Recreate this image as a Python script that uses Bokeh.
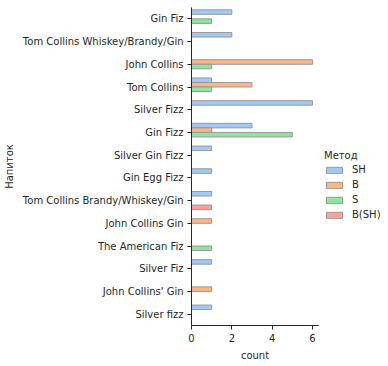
from bokeh.plotting import figure
from bokeh.models import FactorRange, Range1d, FixedTicker, Legend, LegendItem, ColumnDataSource
from bokeh.transform import dodge
from bokeh.embed import file_html
from bokeh.resources import INLINE

drinks = ["Gin Fiz", "Tom Collins Whiskey/Brandy/Gin", "John Collins", "Tom Collins",
          "Silver Fizz", "Gin Fizz", "Silver Gin Fizz", "Gin Egg Fizz",
          "Tom Collins Brandy/Whiskey/Gin", "John Collins Gin", "The American Fiz",
          "Silver Fiz", "John Collins' Gin", "Silver fizz"]
methods = ["SH", "B", "S", "B(SH)"]
count_SH = [2, 2, 0, 1, 6, 3, 1, 1, 1, 0, 0, 1, 0, 1]
count_B = [0, 0, 6, 3, 0, 1, 0, 0, 0, 1, 0, 0, 1, 0]
count_S = [1, 0, 1, 1, 0, 5, 0, 0, 0, 0, 1, 0, 0, 0]
count_BSH = [0, 0, 0, 0, 0, 0, 0, 0, 1, 0, 0, 0, 0, 0]
x_ticks = [0, 2, 4, 6]

series = [count_SH, count_B, count_S, count_BSH]
colors = ["#a1c9f4", "#ffb482", "#8de5a1", "#ff9f9b"]
offsets = [0.3, 0.1, -0.1, -0.3]

FONT = "DejaVu Sans"
TXT = "#262626"

p = figure(y_range=FactorRange(*reversed(drinks)), x_range=Range1d(0, 6.3),
           frame_width=127, frame_height=318, output_backend="svg",
           toolbar_location=None, min_border_top=7, min_border_left=0,
           min_border_right=0, min_border_bottom=0)

items = []
for name, vals, col, off in zip(methods, series, colors, offsets):
    d = [dr for dr, v in zip(drinks, vals) if v > 0]
    c = [v for v in vals if v > 0]
    src = ColumnDataSource(dict(drink=d, count=c))
    r = p.hbar(y=dodge("drink", off, range=p.y_range), left=0, right="count",
               height=0.2, source=src, fill_color=col, line_color="#999999",
               line_width=1)
    items.append(LegendItem(label=name, renderers=[r]))

p.xgrid.visible = False
p.ygrid.visible = False
p.outline_line_color = None

p.xaxis.ticker = FixedTicker(ticks=x_ticks)
p.xaxis.minor_tick_line_color = None
for ax in (p.xaxis[0], p.yaxis[0]):
    ax.major_tick_in = 0
    ax.major_tick_out = 4
    ax.axis_line_color = TXT
    ax.major_tick_line_color = TXT
    ax.major_label_text_font = FONT
    ax.major_label_text_font_size = "10px"
    ax.major_label_text_color = TXT
    ax.axis_label_text_font = FONT
    ax.axis_label_text_font_size = "10px"
    ax.axis_label_text_font_style = "normal"
    ax.axis_label_text_color = TXT
    ax.major_label_standoff = 4
    ax.axis_label_standoff = 5

p.xaxis.axis_label = "count"
p.yaxis.axis_label = "Напиток"

legend = Legend(items=items, title="Метод", location=(6, 105),
                glyph_width=20, glyph_height=8, label_height=11, spacing=4,
                label_text_font=FONT, label_text_font_size="10px", label_text_color=TXT,
                title_text_font=FONT, title_text_font_size="10px", title_text_color=TXT,
                title_text_font_style="normal", title_standoff=3,
                border_line_color=None, background_fill_alpha=0,
                margin=0, padding=0, label_standoff=8)
p.add_layout(legend, "right")

open("out.html", "w").write(file_html(p, INLINE))
